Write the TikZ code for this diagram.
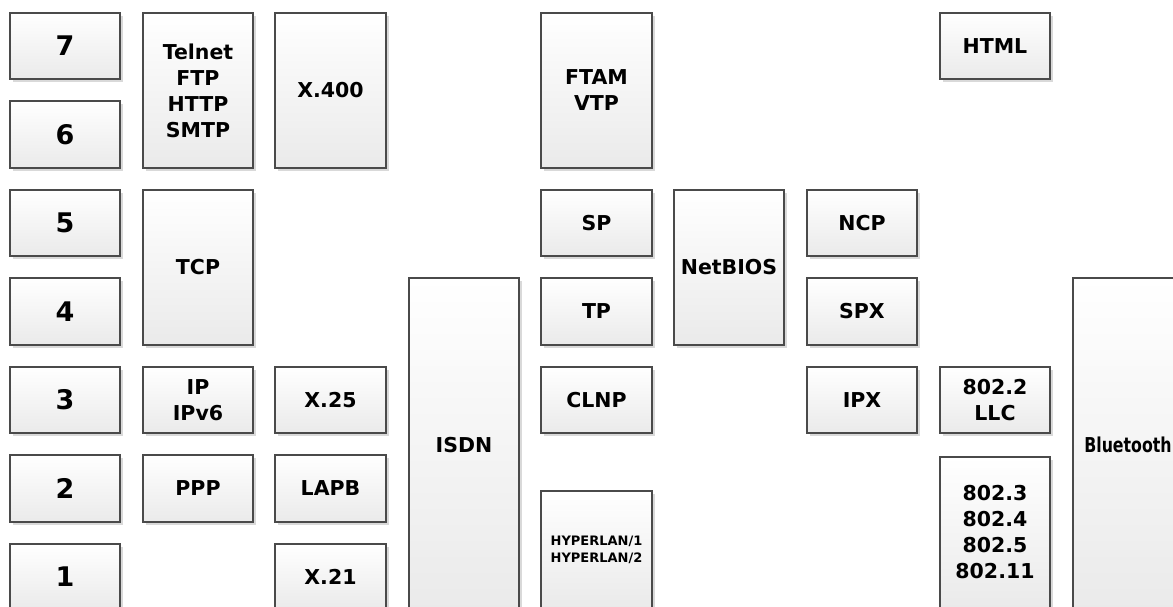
\documentclass[tikz,border=0pt]{standalone}
\usepackage{fontspec}
\setmainfont{DejaVu Sans}
\usetikzlibrary{shadows}
\definecolor{boxborder}{HTML}{4A4A4A}
\definecolor{boxbottom}{HTML}{EAEAEA}
\definecolor{shadowgray}{HTML}{D9D9D9}
\tikzset{
  x=1pt, y=-1pt,
  box/.style={draw=boxborder, line width=1.2pt, top color=white, bottom color=boxbottom,
    shading angle=0, inner sep=0pt, align=center, font=\bfseries\fontsize{20.5}{26}\selectfont,
    drop shadow={shadow xshift=3pt, shadow yshift=-3pt, fill=shadowgray, opacity=1}},
  numfont/.style={font=\bfseries\fontsize{27}{32}\selectfont},
  smallfont/.style={font=\bfseries\fontsize{13}{17}\selectfont},
}
% \Bx[opts]{name}{x1}{y1}{x2}{y2}{text}
\newcommand\Bx[7][]{%
  \pgfmathsetmacro\bxw{#5-#3}\pgfmathsetmacro\bxh{#6-#4}%
  \pgfmathsetmacro\bxcx{(#3+#5)/2}\pgfmathsetmacro\bxcy{(#4+#6)/2}%
  \node[box,#1,minimum width=\bxw pt,minimum height=\bxh pt] (#2) at (\bxcx,\bxcy) {#7};%
}
\begin{document}
\begin{tikzpicture}
\useasboundingbox (0,0) rectangle (1173,606);
\clip (0,0) rectangle (1173,606);
% OSI layer numbers
\Bx[numfont]{l7}{10}{13}{120}{79}{7}
\Bx[numfont]{l6}{10}{101}{120}{168}{6}
\Bx[numfont]{l5}{10}{190}{120}{256}{5}
\Bx[numfont]{l4}{10}{278}{120}{345}{4}
\Bx[numfont]{l3}{10}{367}{120}{433}{3}
\Bx[numfont]{l2}{10}{455}{120}{522}{2}
\Bx[numfont]{l1}{10}{544}{120}{610}{1}
% TCP/IP column
\Bx{app}{143}{13}{253}{168}{Telnet\\FTP\\HTTP\\SMTP}
\Bx{tcp}{143}{190}{253}{345}{TCP}
\Bx{ip}{143}{367}{253}{433}{IP\\IPv6}
\Bx{ppp}{143}{455}{253}{522}{PPP}
% X column
\Bx{x400}{275}{13}{386}{168}{X.400}
\Bx{x25}{275}{367}{386}{433}{X.25}
\Bx{lapb}{275}{455}{386}{522}{LAPB}
\Bx{x21}{275}{544}{386}{610}{X.21}
% ISDN
\Bx{isdn}{409}{278}{519}{612}{ISDN}
% OSI protocols
\Bx{ftam}{541}{13}{652}{168}{FTAM\\VTP}
\Bx{sp}{541}{190}{652}{256}{SP}
\Bx{tp}{541}{278}{652}{345}{TP}
\Bx{clnp}{541}{367}{652}{433}{CLNP}
\Bx[smallfont]{hyper}{541}{491}{652}{608}{HYPERLAN/1\\HYPERLAN/2}
% NetBIOS
\Bx{netbios}{674}{190}{784}{345}{NetBIOS}
% Novell
\Bx{ncp}{807}{190}{917}{256}{NCP}
\Bx{spx}{807}{278}{917}{345}{SPX}
\Bx{ipx}{807}{367}{917}{433}{IPX}
% IEEE
\Bx{html}{940}{13}{1050}{79}{HTML}
\Bx{llc}{940}{367}{1050}{433}{802.2\\LLC}
\Bx{ieee}{940}{457}{1050}{608}{802.3\\802.4\\802.5\\802.11}
% Bluetooth
\Bx{bt}{1073}{278}{1183}{612}{\scalebox{0.77}[1]{Bluetooth}}
\end{tikzpicture}
\end{document}
